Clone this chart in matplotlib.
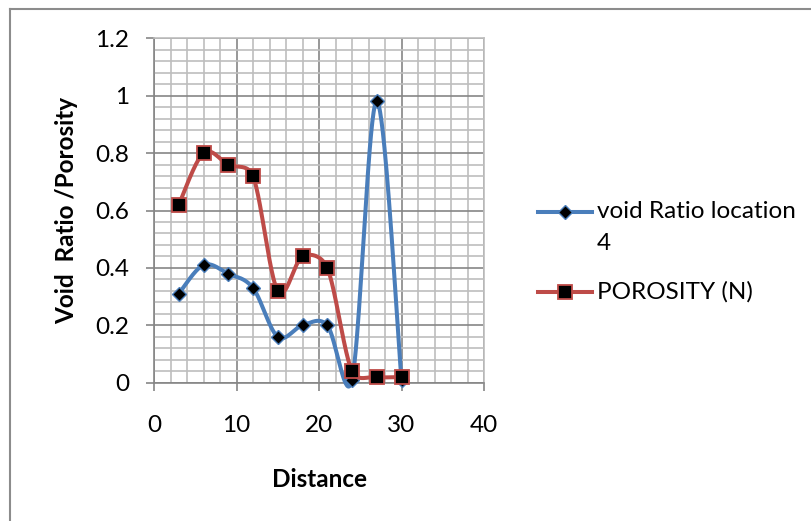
import numpy as np
import matplotlib
matplotlib.use("Agg")
import matplotlib.pyplot as plt
from matplotlib.lines import Line2D
from matplotlib.ticker import MultipleLocator, FuncFormatter

plt.rcParams['font.family'] = ['Lato', 'DejaVu Sans']

distance = [3, 6, 9, 12, 15, 18, 21, 24, 27, 30]
void_ratio = [0.31, 0.41, 0.38, 0.33, 0.16, 0.20, 0.20, 0.01, 0.98, 0.01]
porosity = [0.62, 0.80, 0.76, 0.72, 0.32, 0.44, 0.40, 0.04, 0.02, 0.02]
x_ticks = [0, 10, 20, 30, 40]
y_ticks = [0, 0.2, 0.4, 0.6, 0.8, 1.0, 1.2]
series_names = ["void Ratio location", "4", "POROSITY (N)"]
x_label = "Distance"
y_label = "Void  Ratio /Porosity"

BLUE = "#4A7EBB"
RED = "#BE4B48"
MAJ = "#868686"
MIN = "#BEBEBE"
FS = 17.5

fig = plt.figure(figsize=(8.11, 5.21), dpi=100)
ax = fig.add_axes([154/811, 1-382.7/521, 330/811, (382.7-38.3)/521])
ax.set_xlim(0, 40)
ax.set_ylim(0, 1.2)


def excel_smooth(ax, xs, ys, n=40):
    """Excel-like Bezier smoothing computed in display space."""
    pts = ax.transData.transform(np.column_stack([xs, ys]))
    m = len(pts)
    ctrl_out = []
    ctrl_in = []
    for i in range(m):
        p0 = pts[max(i-1, 0)]
        p1 = pts[i]
        p2 = pts[min(i+1, m-1)]
        d = p2 - p0
        d02 = np.hypot(*d)
        d01 = np.hypot(*(p1 - p0)) if i > 0 else np.inf
        d12 = np.hypot(*(p2 - p1)) if i < m-1 else np.inf
        if d02 == 0:
            ctrl_in.append(p1); ctrl_out.append(p1); continue
        u = d / d02
        L = d02 / 6
        L_in = min(L, d01/2) if i > 0 else 0
        L_out = min(L, d12/2) if i < m-1 else 0
        ctrl_in.append(p1 - u*L_in)
        ctrl_out.append(p1 + u*L_out)
    t = np.linspace(0, 1, n)[:, None]
    curve = []
    for i in range(m-1):
        a, b, c, d_ = pts[i], ctrl_out[i], ctrl_in[i+1], pts[i+1]
        seg = (1-t)**3*a + 3*(1-t)**2*t*b + 3*(1-t)*t**2*c + t**3*d_
        curve.append(seg if i == 0 else seg[1:])
    curve = np.vstack(curve)
    return ax.transData.inverted().transform(curve)


ax.xaxis.set_major_locator(MultipleLocator(10))
ax.xaxis.set_minor_locator(MultipleLocator(2))
ax.yaxis.set_major_locator(MultipleLocator(0.2))
ax.yaxis.set_minor_locator(MultipleLocator(0.04))
ax.grid(which='minor', color=MIN, linewidth=1.2, zorder=0)
ax.grid(which='major', color=MAJ, linewidth=1.2, zorder=0)
ax.set_axisbelow(True)
ax.set_xticks(x_ticks)
ax.set_yticks(y_ticks)
ax.xaxis.set_major_formatter(FuncFormatter(lambda v, p: f"{v:g}"))
ax.yaxis.set_major_formatter(FuncFormatter(lambda v, p: f"{v:g}"))
ax.tick_params(which='major', direction='out', length=6, width=1.2, color=MAJ,
               labelsize=FS)
ax.tick_params(axis='y', pad=12)
ax.tick_params(axis='x', pad=17)
ax.tick_params(which='minor', length=0)
for s in ax.spines.values():
    s.set_color(MAJ)
    s.set_linewidth(1.2)
ax.spines['top'].set_color(MIN)
ax.spines['right'].set_color(MIN)

cv = excel_smooth(ax, distance, void_ratio)
cp = excel_smooth(ax, distance, porosity)
ax.plot(cv[:, 0], cv[:, 1], color=BLUE, lw=2.9, zorder=3, clip_on=False)
ax.plot(distance, void_ratio, linestyle='none', marker='D', ms=7.2,
        mfc='black', mec=BLUE, mew=1.0, zorder=4, clip_on=False)
ax.plot(cp[:, 0], cp[:, 1], color=RED, lw=2.9, zorder=5, clip_on=False)
ax.plot(distance, porosity, linestyle='none', marker='s', ms=10,
        mfc='black', mec=RED, mew=1.3, zorder=6, clip_on=False)

ax.set_xlabel(x_label, fontsize=FS, fontweight='bold', labelpad=23.5)
ax.set_ylabel(y_label, fontsize=FS, fontweight='bold', labelpad=12)

# legend drawn manually
def leg_entry(y, color, marker, ms, mew):
    fig.add_artist(Line2D([538/811, 592/811], [1-y/521, 1-y/521], color=color,
                          lw=2.9, transform=fig.transFigure))
    fig.add_artist(Line2D([565/811], [1-y/521], marker=marker, ms=ms, mfc='black',
                          mec=color, mew=mew, linestyle='none',
                          transform=fig.transFigure))

leg_entry(212, BLUE, 'D', 7.2, 1.0)
leg_entry(292, RED, 's', 10, 1.3)
fig.text(597/811, 1-212/521, series_names[0], fontsize=FS, va='center', ha='left')
fig.text(597/811, 1-244/521, series_names[1], fontsize=FS, va='center', ha='left')
fig.text(597/811, 1-292/521, series_names[2], fontsize=FS, va='center', ha='left')

# chart area border (top and left visible)
fig.add_artist(Line2D([10/811, 1], [1-8.5/521, 1-8.5/521], color='#8C8C8C', lw=1.5,
                      transform=fig.transFigure))
fig.add_artist(Line2D([10/811, 10/811], [0, 1-8.5/521], color='#8C8C8C', lw=1.5,
                      transform=fig.transFigure))

fig.savefig("out.png", dpi=100)
